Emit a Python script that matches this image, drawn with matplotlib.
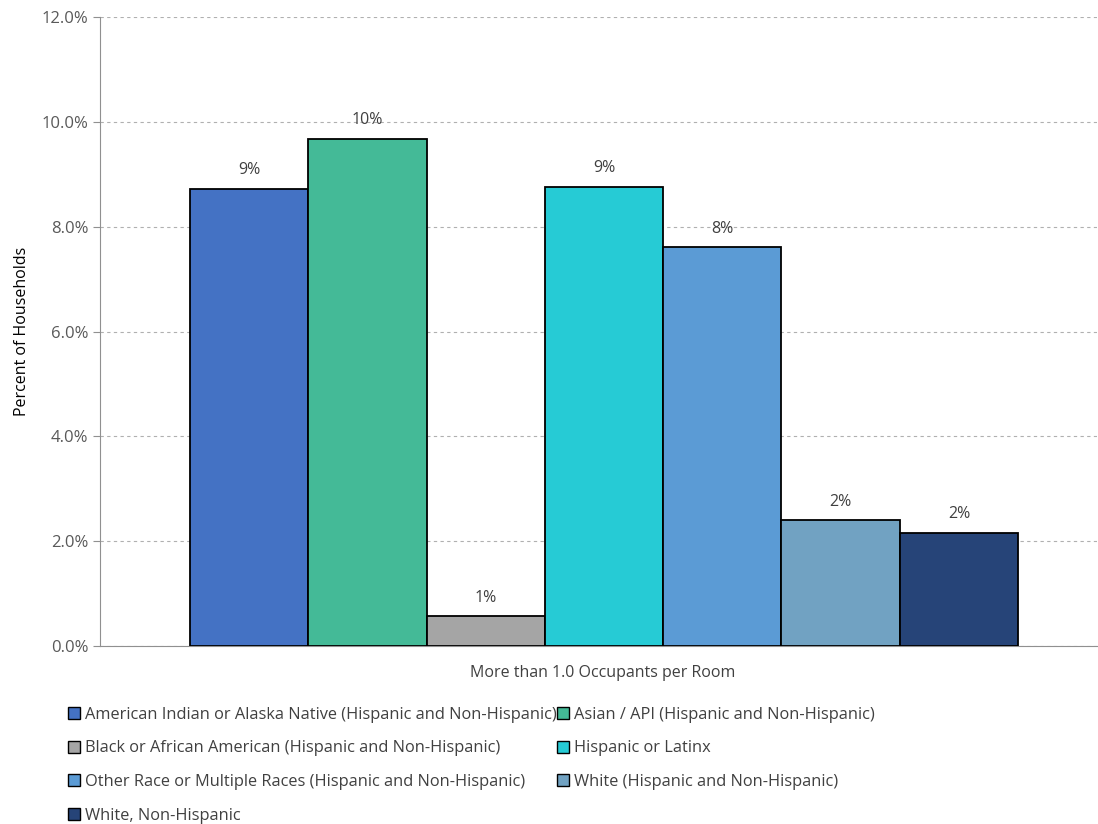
import numpy as np
import matplotlib.pyplot as plt
from matplotlib.patches import Patch

categories = [
    "American Indian or Alaska Native (Hispanic and Non-Hispanic)",
    "Asian / API (Hispanic and Non-Hispanic)",
    "Black or African American (Hispanic and Non-Hispanic)",
    "Hispanic or Latinx",
    "Other Race or Multiple Races (Hispanic and Non-Hispanic)",
    "White (Hispanic and Non-Hispanic)",
    "White, Non-Hispanic",
]
values = [8.72, 9.68, 0.57, 8.76, 7.61, 2.40, 2.16]
labels = ["9%", "10%", "1%", "9%", "8%", "2%", "2%"]
colors = ["#4472C4", "#44BA97", "#A5A5A5", "#26CBD5", "#5B9BD5", "#71A2C2", "#264478"]
group_label = "More than 1.0 Occupants per Room"

plt.rcParams["font.family"] = ["Open Sans", "DejaVu Sans"]

fig = plt.figure(figsize=(10.98, 8.24), dpi=100)
ax = fig.add_axes([100 / 1098, 1 - 646 / 824, 997 / 1098, 629 / 824])

bw = 118.3 / 997
x = 0.5 + (np.arange(len(values)) - 3) * bw + 0.0055
for xi, v, lab, c in zip(x, values, labels, colors):
    ax.bar(xi, v, width=bw, color=c, edgecolor="black", linewidth=1.3, zorder=3)
    ax.text(xi, v + 0.2, lab, ha="center", va="bottom", fontsize=11.5, color="#404040")

ax.set_xlim(0, 1)
ax.set_ylim(0, 12)
ax.set_yticks(np.arange(0, 12.1, 2))
ax.set_yticklabels([f"{t:.1f}%" for t in np.arange(0, 12.1, 2)])
ax.yaxis.grid(True, linestyle=(0, (3, 3)), color="#B0B0B0", linewidth=0.8, zorder=0)
ax.set_xticks([])
ax.tick_params(axis="y", colors="#909090", labelcolor="#595959", labelsize=12, length=5)
for s in ["top", "right"]:
    ax.spines[s].set_visible(False)
ax.spines["left"].set_color("#909090")
ax.spines["bottom"].set_color("#909090")
ax.set_ylabel("Percent of Households", fontsize=11.5, color="black")
ax.yaxis.set_label_coords(-70 / 997, 0.5)
ax.set_xlabel(group_label, fontsize=11.5, color="#404040")
ax.xaxis.set_label_coords(0.504, -0.03)
ax.xaxis.label.set_va("top")

# reorder so the two-column legend fills row by row
order = [0, 2, 4, 6, 1, 3, 5]
handles = [Patch(facecolor=colors[i], edgecolor="black", linewidth=1.0) for i in order]
leg = fig.legend(handles, [categories[i] for i in order], ncol=2, loc="upper left",
                 bbox_to_anchor=(53 / 1098, 1 - 692 / 824), frameon=False,
                 fontsize=11.8, handlelength=0.75, handleheight=0.75,
                 handletextpad=0.3, columnspacing=0.0, labelspacing=1.08)
for t in leg.get_texts():
    t.set_color("#404040")

fig.savefig("out.png", dpi=100)
